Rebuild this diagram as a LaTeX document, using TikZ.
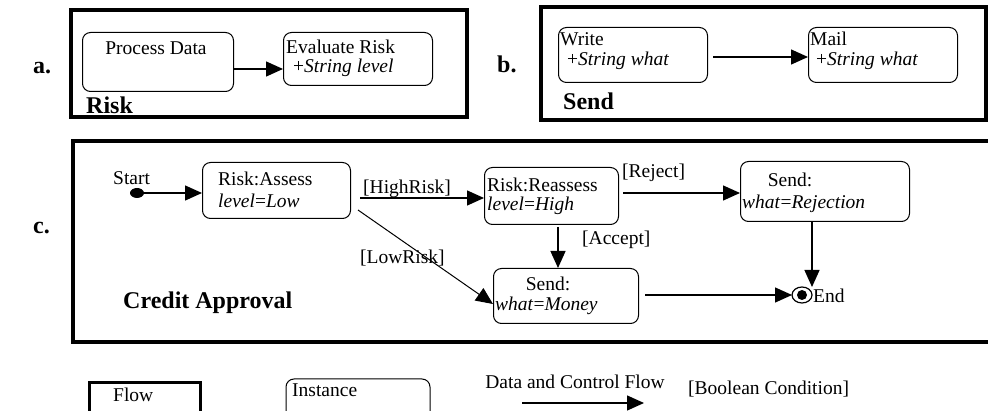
\documentclass[tikz,border=0pt]{standalone}
\usepackage{fontspec}
\setmainfont{Liberation Serif}
\usetikzlibrary{arrows.meta}
\begin{document}
\begin{tikzpicture}[x=1pt,y=-1pt,
  txt/.style={inner sep=0pt, anchor=west, font=\fontsize{19.5}{22}\selectfont},
  ctxt/.style={inner sep=0pt, font=\fontsize{19.5}{22}\selectfont},
  lbl/.style={inner sep=0pt, anchor=west, font=\fontsize{24}{28}\selectfont\bfseries},
  frame/.style={draw, line width=3.5pt},
  ibox/.style={draw, line width=1pt, rounded corners=8pt, anchor=north west, inner sep=0pt},
  tip/.style={-{Triangle[length=17pt,width=15pt]}},
  flow/.style={line width=1.4pt, tip},
]
\useasboundingbox (0,0) rectangle (988,411);
% ---------------- panel a
\node[lbl] (la) at (33,68) {a.};
\draw[frame] (71,10) rectangle (467,117);
\node[ibox, minimum width=151pt, minimum height=59pt] (pd) at (82,32) {};
\node[ctxt] (pdt) at (156,48) {Process Data};
\node[ibox, minimum width=149pt, minimum height=53pt] (ev) at (283,32) {};
\node[txt] (evt) at (286,47) {Evaluate Risk};
\node[txt] (evs) at (293,68) {+\textit{String level}};
\draw[flow] ([yshift=-7pt]pd.east) -- ([yshift=-7pt]pd.east -| ev.west);
\node[lbl] (lrisk) at (86,105) {Risk};
% ---------------- panel b
\node[lbl] (lb) at (497,64) {b.};
\draw[frame] (541,7) rectangle (986,120);
\node[ibox, minimum width=149pt, minimum height=55pt] (wr) at (558,27) {};
\node[txt] (wrt) at (560,39) {Write};
\node[txt] (wrs) at (567,61) {+\textit{String what}};
\node[ibox, minimum width=149pt, minimum height=55pt] (ml) at (808,27) {};
\node[txt] (mlt) at (810,39) {Mail};
\node[txt] (mls) at (816,61) {+\textit{String what}};
\draw[flow] ([xshift=5pt,yshift=-2pt]wr.east) -- ([yshift=-2pt]ml.west);
\node[lbl] (lsend) at (563,101) {Send};
% ---------------- panel c
\node[lbl] (lc) at (33,228) {c.};
\draw[frame] (73,141) rectangle (990,342);
\node[txt] (startt) at (113,178) {Start};
\fill (137,193) ellipse (7pt and 5pt);
\coordinate (start) at (137,193);
\node[ibox, minimum width=148pt, minimum height=56pt] (as) at (202,162) {};
\node[txt] (ast) at (218,179) {Risk:Assess};
\node[txt] (ass) at (218,201) {\textit{level}=\textit{Low}};
\draw[flow] (start) -- (start -| as.west);
\node[ibox, minimum width=134pt, minimum height=57pt] (re) at (484,167) {};
\node[txt] (ret) at (487,185) {Risk:Reassess};
\node[txt] (res) at (487,206) {\textit{level}=\textit{High}};
\node[ibox, minimum width=169pt, minimum height=60pt] (rj) at (740,161) {};
\node[ctxt] (rjt) at (790,180) {Send:};
\node[txt] (rjs) at (742,204) {\textit{what}=\textit{Rejection}};
\node[ibox, minimum width=145pt, minimum height=55pt] (mo) at (493,268) {};
\node[ctxt] (mot) at (548,284) {Send:};
\node[txt] (mos) at (495,306) {\textit{what}=\textit{Money}};
% end marker
\coordinate (endc) at (802,295);
\draw[line width=1.2pt] (endc) ellipse (10pt and 8pt);
\fill (endc) circle (5pt);
\node[txt] (endt) at (813,296) {End};
% connectors
\coordinate (hr1) at (360,198);
\draw[flow] (hr1) -- (hr1 -| re.west);
\node[txt, anchor=base west] (hrt) at (363,194) {[HighRisk]};
\coordinate (lr1) at (358,210);
\draw[line width=1pt, tip] (lr1) -- ([yshift=-8pt]mo.west);
\node[txt] (lrt) at (360,258) {[LowRisk]};
\coordinate (rj1) at (623,193);
\draw[flow] (rj1) -- (rj1 -| rj.west);
\node[txt] (rjl) at (622,173) {[Reject]};
\coordinate (ac1) at (558,227);
\draw[flow] (ac1) -- (ac1 |- mo.north);
\node[txt] (acl) at (582,240) {[Accept]};
\coordinate (rd1) at (812,222);
\draw[flow] (rd1) -- (812,287);
\coordinate (me1) at (645,295);
\draw[flow] (me1) -- ([xshift=-10pt]endc);
\node[lbl] (lca) at (123,303) {Credit Approval};
% ---------------- legend
\draw[frame, line width=3pt] (89,383) rectangle (200,416);
\node[txt] (lflow) at (113,395) {Flow};
\draw[line width=1pt, rounded corners=8pt] (286,416) -- (286,379) -- (430,379) -- (430,416);
\node[txt] (linst) at (292,390) {Instance};
\node[ctxt] (ldcf) at (575,382) {Data and Control Flow};
\coordinate (la1) at (522,403);
\draw[flow] (la1) -- (644,403);
\node[txt] (lbool) at (688,389) {[Boolean Condition]};
\end{tikzpicture}
\end{document}
